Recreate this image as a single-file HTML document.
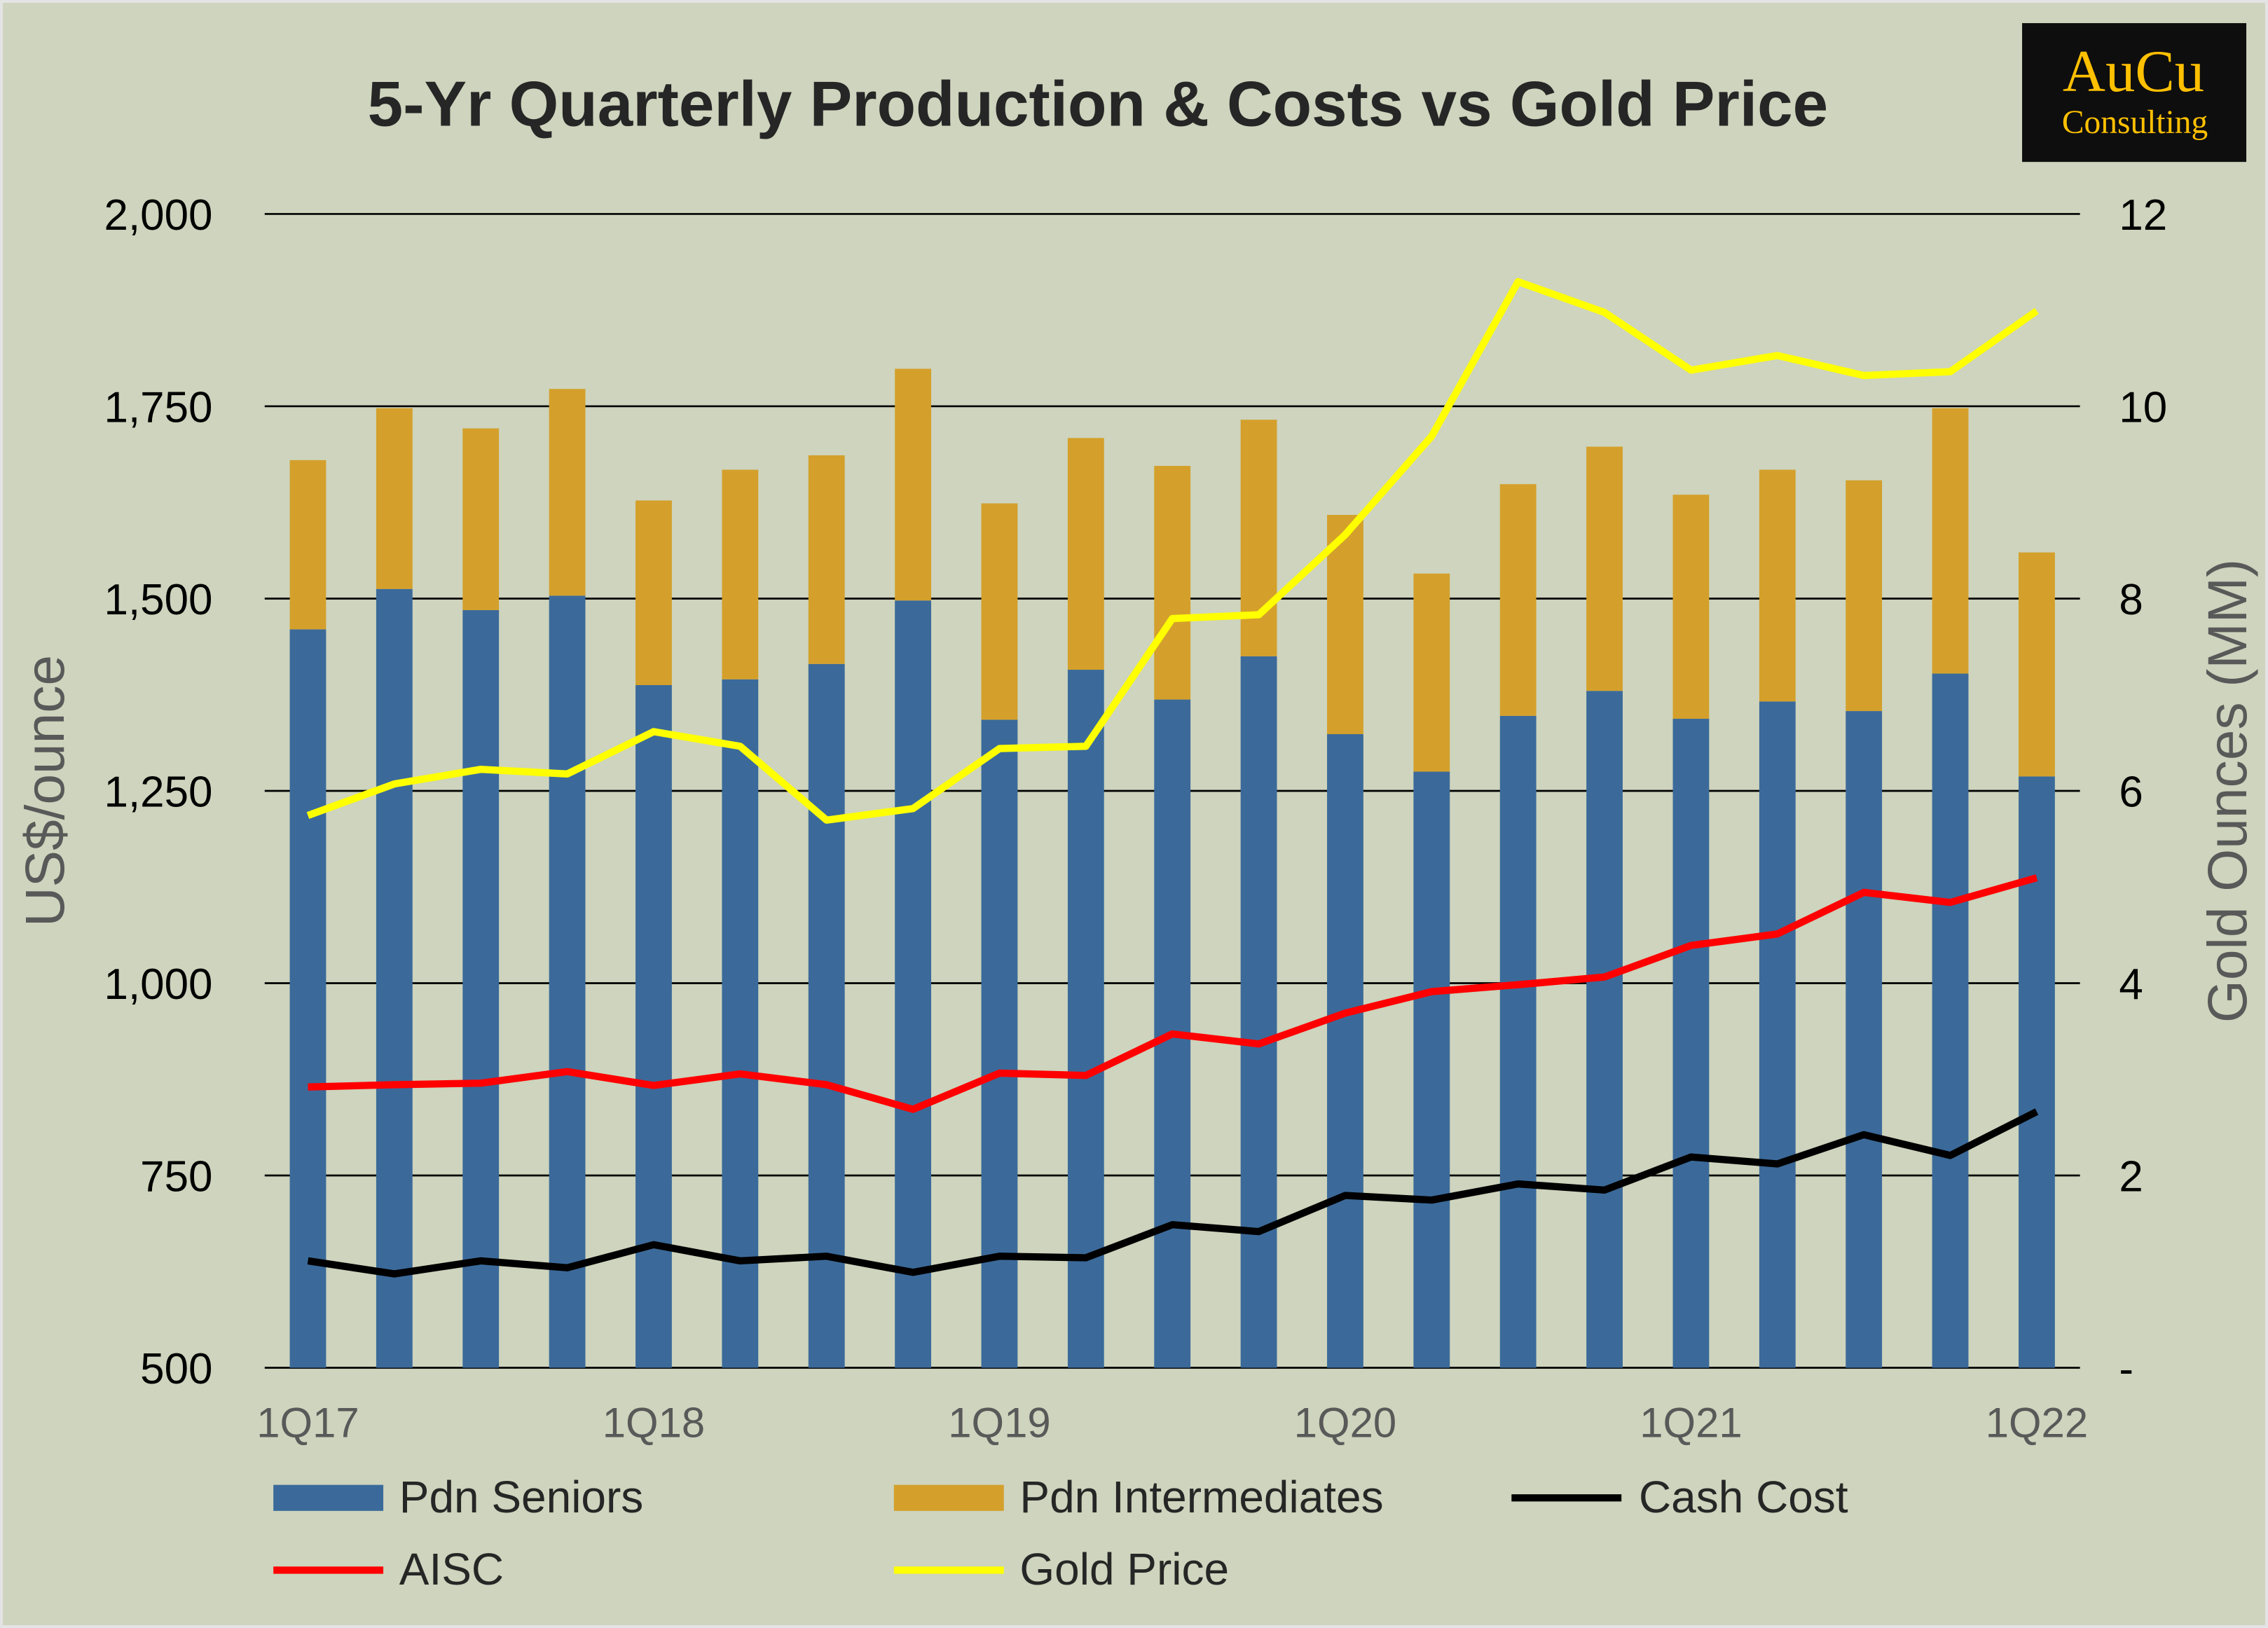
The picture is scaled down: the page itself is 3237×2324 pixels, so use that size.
<!DOCTYPE html>
<html><head><meta charset="utf-8"><style>
html,body{margin:0;padding:0;background:#ced4bd}
svg{display:block}
text{font-family:"Liberation Sans",sans-serif}
</style></head><body>
<svg id="chart" width="3237" height="2324" viewBox="0 0 1568 1126" preserveAspectRatio="none" xmlns="http://www.w3.org/2000/svg">
<rect x="0" y="0" width="1568" height="1126" fill="#ced4bd" stroke="#e4e4e4" stroke-width="4"/>
<text x="759" y="87" text-anchor="middle" font-size="44" font-weight="bold" fill="#262626">5-Yr Quarterly Production &amp; Costs vs Gold Price</text>
<g>
<rect x="1398" y="16" width="155" height="96" fill="#0e0e0e"/>
<text x="1475" y="63" text-anchor="middle" font-size="41" fill="#ffc000" style="font-family:'Liberation Serif',serif">AuCu</text>
<text x="1476" y="92" text-anchor="middle" font-size="23" fill="#ffc000" style="font-family:'Liberation Serif',serif">Consulting</text>
</g>
<g id="grid"></g><g id="bars"></g><g id="lines"></g><g id="axes"></g>
<text transform="translate(44,547) rotate(-90)" text-anchor="middle" font-size="38" fill="#595959">US$/ounce</text>
<text transform="translate(1553,547) rotate(-90)" text-anchor="middle" font-size="38" fill="#595959">Gold Ounces (MM)</text>
<g>
<rect x="189" y="1027" width="76" height="18" fill="#3b6a9a"/>
<text x="276" y="1046" font-size="31" fill="#262626">Pdn Seniors</text>
<rect x="618" y="1027" width="76" height="18" fill="#d4a02b"/>
<text x="705" y="1046" font-size="31" fill="#262626">Pdn Intermediates</text>
<line x1="1045" y1="1036" x2="1121" y2="1036" stroke="#000" stroke-width="5"/>
<text x="1133" y="1046" font-size="31" fill="#262626">Cash Cost</text>
<line x1="189" y1="1086" x2="265" y2="1086" stroke="#ff0000" stroke-width="5"/>
<text x="276" y="1096" font-size="31" fill="#262626">AISC</text>
<line x1="618" y1="1086" x2="694" y2="1086" stroke="#ffff00" stroke-width="5"/>
<text x="705" y="1096" font-size="31" fill="#262626">Gold Price</text>
</g>
</svg>
<script>
const categories=["1Q17","2Q17","3Q17","4Q17","1Q18","2Q18","3Q18","4Q18","1Q19","2Q19","3Q19","4Q19","1Q20","2Q20","3Q20","4Q20","1Q21","2Q21","3Q21","4Q21","1Q22"];
const seniors=[7.68,8.10,7.88,8.03,7.10,7.16,7.32,7.98,6.74,7.26,6.95,7.40,6.59,6.20,6.78,7.04,6.75,6.93,6.83,7.22,6.15];
const intermediates=[1.76,1.88,1.89,2.15,1.92,2.18,2.17,2.41,2.25,2.41,2.43,2.46,2.28,2.06,2.41,2.54,2.33,2.41,2.40,2.76,2.33];
const cashCost=[639,622,639,630,660,639,645,624,645,643,686,677,724,718,739,731,774,765,803,776,833];
const aisc=[865,868,870,885,867,882,868,836,883,880,934,921,961,989,998,1008,1049,1064,1118,1105,1137];
const goldPrice=[1218,1259,1278,1272,1327,1308,1212,1227,1305,1308,1474,1479,1583,1711,1912,1872,1797,1816,1790,1795,1874];
const leftTicks=["500","750","1,000","1,250","1,500","1,750","2,000"];
const rightTicks=["-","2","4","6","8","10","12"];
const xLabels=["1Q17","1Q18","1Q19","1Q20","1Q21","1Q22"];

const NS="http://www.w3.org/2000/svg";
const X0=183,X1=1438,Y0=946,Y1=148;
const bw=(X1-X0)/categories.length;
const yL=v=>Y0-(v-500)/1500*(Y0-Y1);
const yR=v=>Y0-v/12*(Y0-Y1);
const xC=i=>X0+bw*(i+0.5);
function mk(tag,attrs,parent){const e=document.createElementNS(NS,tag);for(const k in attrs)e.setAttribute(k,attrs[k]);document.getElementById(parent).appendChild(e);return e;}

leftTicks.forEach((t,i)=>{
  const v=500+i*250;
  const g=mk("line",{x1:X0,x2:X1,y1:yL(v),y2:yL(v),stroke:"#000","stroke-width":1.3},"grid");
  
  
  const tl=mk("text",{x:147,y:yL(v)+11,"text-anchor":"end","font-size":30,fill:"#000"},"axes");
  tl.textContent=t;
  
  
});
rightTicks.forEach((t,i)=>{
  const tr=mk("text",{x:1465,y:yR(i*2)+11,"font-size":30,fill:"#000"},"axes");
  tr.textContent=t;
  
  
});
categories.forEach((c,i)=>{
  const w=bw*0.42,x=xC(i)-w/2;
  const s=mk("rect",{x:x,y:yR(seniors[i]),width:w,height:Y0-yR(seniors[i]),fill:"#3b6a9a"},"bars");
  
  
  const top=seniors[i]+intermediates[i];
  const m=mk("rect",{x:x,y:yR(top),width:w,height:yR(seniors[i])-yR(top),fill:"#d4a02b"},"bars");
  
  
  const li=xLabels.indexOf(c);
  if(li>=0){
    const xl=mk("text",{x:xC(i),y:994,"text-anchor":"middle","font-size":29,fill:"#595959"},"axes");
    xl.textContent=c;
    
    
  }
});
function line(arr,color,name){
  const p=mk("polyline",{points:arr.map((v,i)=>xC(i)+","+yL(v)).join(" "),fill:"none",stroke:color,"stroke-width":5,"stroke-linejoin":"round"},"lines");
  
  
}
line(cashCost,"#000","line-cash-cost");
line(aisc,"#ff0000","line-aisc");
line(goldPrice,"#ffff00","line-gold-price");
</script>
</body></html>
